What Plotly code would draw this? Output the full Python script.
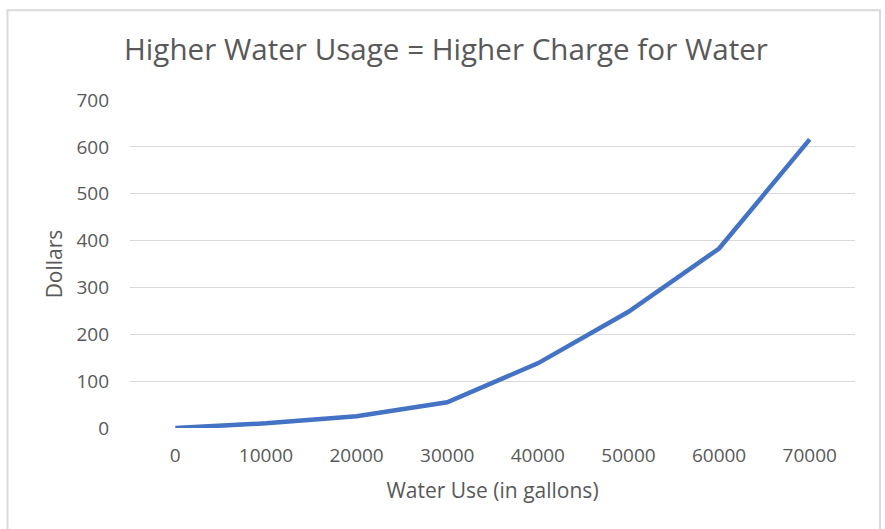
import plotly.graph_objects as go

water_use = ["0", "10000", "20000", "30000", "40000", "50000", "60000", "70000"]
dollars = [0, 10, 25, 55, 138, 248, 383, 616]
y_ticks = [0, 100, 200, 300, 400, 500, 600, 700]

FONT = "Open Sans"
GREY = "#595959"

fig = go.Figure()
fig.add_trace(go.Scatter(
    x=water_use, y=dollars, mode="lines",
    line=dict(color="#4472C4", width=4.5),
    showlegend=False, hoverinfo="x+y",
))

fig.update_layout(
    width=885, height=529,
    margin=dict(l=130, r=30, t=100, b=101),
    paper_bgcolor="white", plot_bgcolor="white",
    font=dict(family=FONT, color=GREY),
    title=dict(text="Higher Water Usage = Higher Charge for Water",
               x=446 / 885, xanchor="center", y=1 - 50 / 529, yanchor="middle",
               font=dict(family=FONT, size=29.6, color=GREY)),
    xaxis=dict(type="category", range=[-0.5, 7.5], showgrid=False,
               showline=False, ticks="", zeroline=False,
               ticklabelstandoff=14,
               tickfont=dict(size=19, color=GREY),
               title=dict(text="Water Use (in gallons)", standoff=16,
                          font=dict(size=21, color=GREY))),
    yaxis=dict(range=[0, 700], tickvals=y_ticks, showgrid=True,
               gridcolor="#d9d9d9", gridwidth=1, zeroline=False,
               showline=False, ticks="", ticklabelstandoff=20,
               tickfont=dict(size=19, color=GREY),
               title=dict(text="Dollars", standoff=8,
                          font=dict(size=21, color=GREY))),
    shapes=[dict(type="rect", xref="paper", yref="paper",
                 x0=-0.169, x1=1.0345, y0=-0.4, y1=1.274,
                 line=dict(color="#d9d9d9", width=2), layer="below")],
)

fig.write_html("out.html", config={"displayModeBar": False},
               post_script="document.body.style.margin='0px';")
